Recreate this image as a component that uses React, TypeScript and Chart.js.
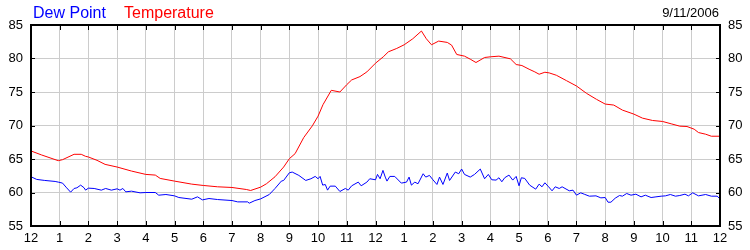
import React, { useEffect, useRef } from "react";
import { Chart, registerables } from "chart.js";

Chart.register(...registerables);

const hourLabels = ["12","1","2","3","4","5","6","7","8","9","10","11","12","1","2","3","4","5","6","7","8","9","10","11","12"];
const dateLabel = "9/11/2006";
const dewLabel = "Dew Point";
const tempLabel = "Temperature";

const tempHours = [0,0.37,0.95,1.1,1.5,1.75,1.9,2.0,2.3,2.58,3.0,3.5,4.0,4.33,4.5,5.0,5.6,6.0,6.5,7.0,7.5,7.65,8.0,8.2,8.5,8.8,9.0,9.2,9.5,9.8,10.0,10.17,10.46,10.76,11.0,11.17,11.46,11.7,12.0,12.27,12.45,12.74,13.0,13.3,13.6,13.77,13.95,14.2,14.5,14.65,14.83,15.1,15.3,15.5,15.8,16.0,16.3,16.7,16.9,17.1,17.35,17.55,17.7,17.9,18.05,18.3,18.65,19.0,19.35,19.7,20.0,20.3,20.6,21.0,21.3,21.65,22.0,22.3,22.6,22.85,23.1,23.25,23.5,23.7,24.0];
const tempValues = [66.2,65.6,64.75,64.9,65.7,65.7,65.4,65.3,64.8,64.2,63.8,63.2,62.7,62.6,62.1,61.7,61.25,61.05,60.85,60.75,60.45,60.3,60.8,61.3,62.35,63.8,65.05,65.8,68.2,69.95,71.4,73.1,75.25,75.0,76.1,76.8,77.3,78.0,79.3,80.25,81.0,81.5,82.05,82.95,84.1,82.95,82.05,82.6,82.4,82.0,80.6,80.35,79.9,79.4,80.15,80.25,80.35,79.95,79.1,78.95,78.4,78.0,77.65,77.95,77.85,77.5,76.7,75.9,74.8,73.9,73.2,73.05,72.3,71.7,71.1,70.75,70.6,70.25,69.9,69.85,69.45,68.95,68.7,68.4,68.4];

const dewHours = [0,0.2,0.48,0.84,0.95,1.1,1.22,1.38,1.5,1.6,1.73,1.85,1.9,2.0,2.2,2.45,2.6,2.8,3.0,3.1,3.2,3.3,3.5,3.8,4.0,4.33,4.45,4.7,5.0,5.15,5.6,5.8,5.97,6.2,6.5,7.0,7.2,7.55,7.6,7.8,8.0,8.3,8.5,8.72,8.8,9.0,9.1,9.33,9.57,9.75,9.9,10.0,10.07,10.16,10.25,10.33,10.42,10.6,10.76,10.95,11.05,11.17,11.4,11.5,11.7,11.8,12.0,12.07,12.16,12.26,12.34,12.4,12.5,12.67,12.9,13.08,13.17,13.25,13.37,13.48,13.66,13.75,13.88,14.0,14.14,14.23,14.35,14.5,14.58,14.78,14.9,15.0,15.1,15.3,15.45,15.65,15.8,15.93,16.05,16.2,16.3,16.4,16.5,16.65,16.78,16.9,17.0,17.08,17.2,17.37,17.58,17.7,17.8,17.9,18.03,18.15,18.26,18.4,18.5,18.75,18.88,19.0,19.15,19.27,19.45,19.68,19.85,20.0,20.1,20.2,20.35,20.5,20.6,20.75,20.9,21.07,21.25,21.4,21.6,21.77,21.95,22.1,22.27,22.45,22.6,22.78,22.9,23.05,23.25,23.5,23.7,23.9,24.0];
const dewValues = [62.35,61.95,61.8,61.65,61.55,61.4,60.8,60.05,60.6,60.7,61.1,60.7,60.35,60.65,60.6,60.35,60.6,60.35,60.55,60.35,60.6,60.1,60.2,59.95,60.0,60.0,59.6,59.7,59.5,59.25,59.0,59.35,58.9,59.1,58.95,58.8,58.6,58.6,58.4,58.8,59.05,59.7,60.6,61.7,61.8,62.95,63.05,62.55,61.8,62.05,62.4,62.05,62.4,61.1,61.2,60.35,60.95,60.95,60.15,60.6,60.35,61.0,61.55,61.0,61.55,62.05,61.9,62.7,62.05,63.3,62.3,61.7,62.4,62.4,61.4,61.55,62.3,61.1,61.55,61.3,62.8,62.3,62.55,61.9,61.2,62.3,61.2,62.9,61.8,63.05,62.8,63.5,62.7,62.3,62.7,63.5,62.05,62.7,61.9,61.85,62.2,61.6,62.2,62.6,61.85,62.4,61.0,62.2,62.1,61.1,60.5,61.25,60.85,61.45,60.85,60.25,60.85,60.6,60.85,60.25,60.35,59.6,59.95,59.75,59.45,59.5,59.2,59.25,58.55,58.55,59.15,59.55,59.45,59.85,59.6,59.75,59.35,59.6,59.25,59.35,59.45,59.5,59.7,59.45,59.55,59.75,59.5,59.95,59.5,59.7,59.45,59.45,59.05];

const FONT = "'Liberation Sans', Arial, sans-serif";

const framePlugin = {
  id: "frame",
  afterDraw(chart: any) {
    const { ctx, chartArea } = chart;
    const { left, right, top, bottom } = chartArea;
    ctx.save();
    ctx.strokeStyle = "#000";
    ctx.lineWidth = 1;
    const xs = chart.scales.x;
    xs.ticks.forEach((t: any) => {
      const px = Math.round(xs.getPixelForValue(t.value)) + 0.5;
      ctx.beginPath();
      ctx.moveTo(px, top);
      ctx.lineTo(px, top + 5);
      ctx.moveTo(px, bottom);
      ctx.lineTo(px, bottom - 5);
      ctx.stroke();
    });
    const ys = chart.scales.y;
    ys.ticks.forEach((t: any) => {
      const py = Math.round(ys.getPixelForValue(t.value)) + 0.5;
      ctx.beginPath();
      ctx.moveTo(left, py);
      ctx.lineTo(left + 4, py);
      ctx.moveTo(right, py);
      ctx.lineTo(right - 4, py);
      ctx.stroke();
    });
    ctx.lineWidth = 2;
    ctx.strokeRect(left, top, right - left, bottom - top);

    ctx.textBaseline = "alphabetic";
    ctx.font = "16px " + FONT;
    ctx.textAlign = "left";
    ctx.fillStyle = "#0000ff";
    ctx.fillText(dewLabel, 33, 18);
    ctx.fillStyle = "#ff0000";
    ctx.fillText(tempLabel, 124, 18);
    ctx.font = "13px " + FONT;
    ctx.textAlign = "right";
    ctx.fillStyle = "#000";
    ctx.fillText(dateLabel, 719, 17);
    ctx.restore();
  },
};

export default function App() {
  const ref = useRef<HTMLCanvasElement>(null);
  useEffect(() => {
    if (!ref.current) return;
    const tickFont = { family: FONT, size: 13 };
    const chart = new Chart(ref.current, {
      type: "line",
      data: {
        datasets: [
          {
            label: tempLabel,
            data: tempHours.map((h, i) => ({ x: h, y: tempValues[i] })),
            borderColor: "#ff0000",
            borderWidth: 1,
            pointRadius: 0,
            tension: 0,
            yAxisID: "y",
          },
          {
            label: dewLabel,
            data: dewHours.map((h, i) => ({ x: h, y: dewValues[i] })),
            borderColor: "#0000ff",
            borderWidth: 1,
            pointRadius: 0,
            tension: 0,
            yAxisID: "y",
          },
        ],
      },
      options: {
        animation: false,
        responsive: false,
        devicePixelRatio: 1,
        layout: { padding: { top: 25, left: 0, right: 0, bottom: 0 } },
        plugins: { legend: { display: false }, tooltip: { enabled: false } },
        scales: {
          x: {
            type: "linear",
            min: 0,
            max: 24,
            position: "bottom",
            border: { display: false },
            grid: { color: "#cccccc", drawTicks: false },
            ticks: {
              stepSize: 1,
              autoSkip: false,
              maxRotation: 0,
              padding: 5,
              color: "#000",
              font: tickFont,
              callback: (_v: any, i: number) => hourLabels[i],
            },
            afterFit: (s: any) => { s.height = 24; },
          },
          y: {
            position: "left",
            min: 55,
            max: 85,
            border: { display: false },
            grid: { color: "#cccccc", drawTicks: false },
            ticks: { stepSize: 5, padding: 8, color: "#000", font: tickFont },
            afterFit: (s: any) => { s.width = 31; },
          },
          y2: {
            position: "right",
            min: 55,
            max: 85,
            border: { display: false },
            grid: { display: false, drawTicks: false },
            ticks: { stepSize: 5, padding: 8, color: "#000", font: tickFont },
            afterFit: (s: any) => { s.width = 30; },
          },
        },
      },
      plugins: [framePlugin],
    } as any);
    return () => chart.destroy();
  }, []);
  return (
    <div style={{ position: "absolute", left: 0, top: 0, width: 750, height: 250, background: "#fff" }}>
      <canvas ref={ref} width={750} height={250} />
    </div>
  );
}
